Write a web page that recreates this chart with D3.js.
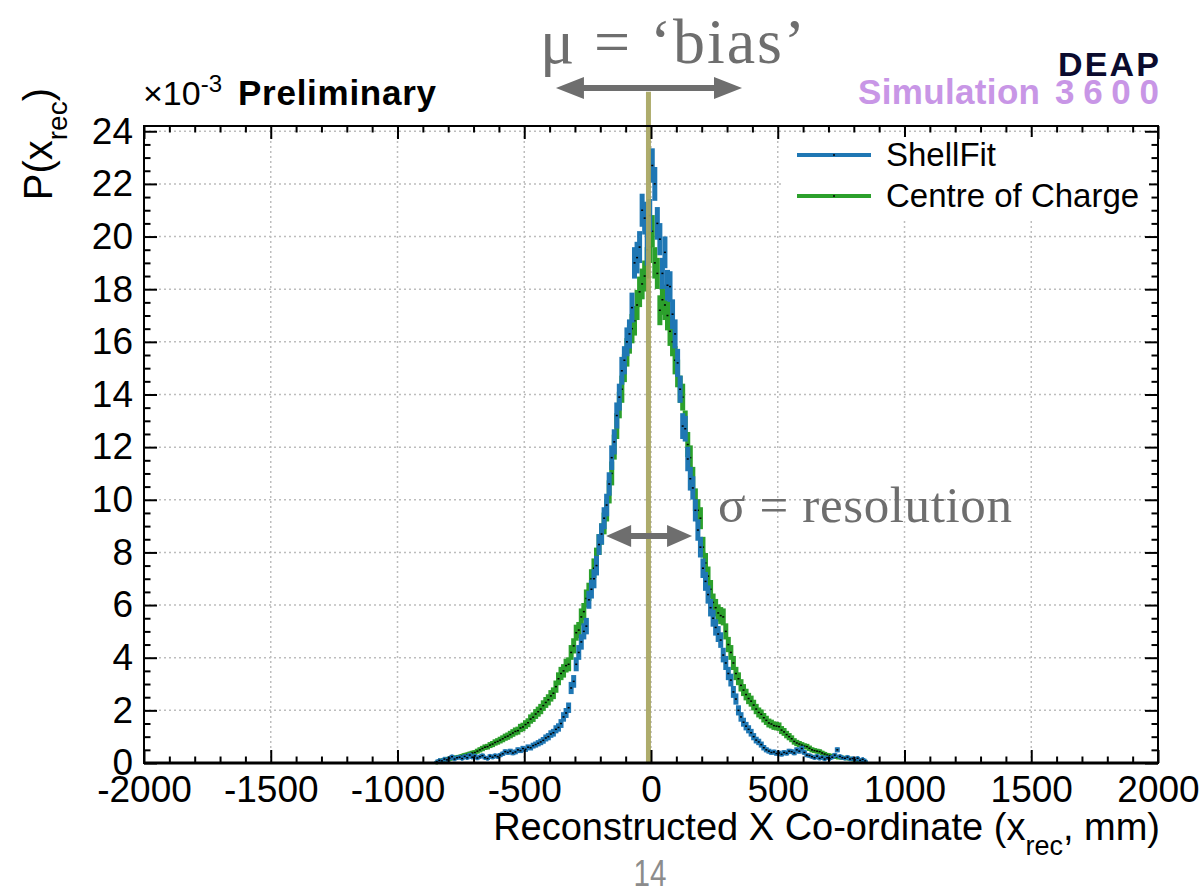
<!DOCTYPE html>
<html>
<head>
<meta charset="utf-8">
<script src="https://cdn.jsdelivr.net/npm/d3@7"></script>
<style>
  body { margin: 0; background: #fff; }
  svg { display: block; }
</style>
</head>
<body>
<div id="chart"></div>
<script>
// histogram bins, 10 mm wide, from -850 to 850 mm
const binCenters = d3.range(-845, 850, 10)

// P(x_rec) x 1e-3, ShellFit
const shellFit = [
  0.05, 0.10, 0.08, 0.15, 0.12, 0.18, 0.24, 0.15, 0.20, 0.22,
  0.17, 0.25, 0.20, 0.30, 0.22, 0.27, 0.19, 0.24, 0.28, 0.20,
  0.17, 0.26, 0.22, 0.28, 0.24, 0.30, 0.35, 0.43, 0.40, 0.45,
  0.38, 0.42, 0.50, 0.47, 0.55, 0.52, 0.60, 0.58, 0.66, 0.70,
  0.75, 0.80, 0.86, 0.95, 1.00, 1.10, 1.15, 1.28, 1.35, 1.50,
  1.75, 1.90, 2.10, 2.85, 3.10, 3.75, 4.20, 4.60, 5.00, 5.20,
  6.20, 6.60, 7.00, 7.50, 8.30, 8.70, 9.30, 9.80, 10.60, 11.60,
  12.20, 13.20, 13.90, 14.90, 15.30, 16.00, 16.30, 17.30, 19.00, 19.20,
  19.60, 21.00, 20.70, 19.50, 20.80, 22.70, 22.00, 20.50, 19.90, 18.60,
  19.40, 18.15, 18.10, 17.05, 16.30, 15.20, 14.20, 12.80, 12.70, 11.55,
  10.80, 10.45, 9.60, 8.85, 8.20, 7.40, 6.90, 6.40, 5.90, 5.50,
  5.15, 4.90, 4.67, 4.10, 3.80, 3.40, 3.15, 2.70, 2.43, 2.00,
  1.75, 1.55, 1.40, 1.28, 1.15, 1.00, 0.87, 0.80, 0.70, 0.58,
  0.50, 0.45, 0.40, 0.42, 0.36, 0.38, 0.33, 0.40, 0.37, 0.45,
  0.43, 0.38, 0.50, 0.45, 0.55, 0.40, 0.30, 0.28, 0.24, 0.20,
  0.26, 0.18, 0.22, 0.15, 0.20, 0.17, 0.22, 0.30, 0.50, 0.25,
  0.20, 0.18, 0.22, 0.15, 0.17, 0.12, 0.18, 0.10, 0.14, 0.08
]

// P(x_rec) x 1e-3, Centre of Charge
const centreOfCharge = [
  0.03, 0.08, 0.10, 0.12, 0.15, 0.14, 0.18, 0.20, 0.22, 0.24,
  0.27, 0.30, 0.32, 0.35, 0.38, 0.40, 0.45, 0.50, 0.55, 0.60,
  0.62, 0.68, 0.72, 0.78, 0.82, 0.87, 0.92, 0.98, 1.02, 1.08,
  1.14, 1.20, 1.23, 1.33, 1.37, 1.46, 1.53, 1.67, 1.74, 1.86,
  1.95, 2.05, 2.18, 2.30, 2.40, 2.55, 2.65, 2.90, 3.20, 3.40,
  3.50, 3.70, 3.75, 4.20, 4.45, 4.95, 5.05, 5.55, 5.75, 6.25,
  6.50, 7.00, 7.40, 7.80, 8.30, 8.70, 9.10, 9.60, 10.30, 11.00,
  12.00, 12.80, 13.60, 14.20, 15.00, 15.60, 16.10, 16.50, 16.80, 17.40,
  17.90, 18.20, 18.50, 19.00, 19.60, 20.20, 19.00, 18.60, 17.20, 17.60,
  17.40, 17.00, 16.40, 16.00, 15.30, 14.80, 14.20, 13.90, 12.90, 12.10,
  11.60, 10.80, 10.00, 9.60, 9.30, 8.20, 7.60, 7.10, 6.60, 6.10,
  5.90, 5.70, 5.60, 5.55, 5.00, 4.50, 4.20, 3.80, 3.40, 3.20,
  2.95, 2.77, 2.60, 2.45, 2.35, 2.20, 2.05, 1.92, 1.85, 1.72,
  1.62, 1.52, 1.48, 1.42, 1.40, 1.38, 1.25, 1.18, 1.08, 1.00,
  0.92, 0.82, 0.76, 0.72, 0.68, 0.64, 0.62, 0.56, 0.50, 0.47,
  0.45, 0.43, 0.38, 0.34, 0.30, 0.28, 0.26, 0.24, 0.22, 0.21,
  0.20, 0.19, 0.18, 0.16, 0.14, 0.13, 0.11, 0.10, 0.08, 0.05
]

const xTicks = [-2000, -1500, -1000, -500, 0, 500, 1000, 1500, 2000]
const yTicks = [0, 2, 4, 6, 8, 10, 12, 14, 16, 18, 20, 22, 24]
const seriesNames = ["ShellFit", "Centre of Charge"]
const seriesColors = ["#1f77b4", "#2ca02c"]
const biasX = -10        // mean marker (mm)
const errScale = 0.137   // poisson error, scaled to the normalisation

const width = 1204, height = 895
const margin = {top: 126, right: 46, bottom: 132, left: 144}
const sans = "'Liberation Sans', Arial, sans-serif"
const serif = "'Liberation Serif', 'DejaVu Serif', serif"

const svg = d3.select("#chart").append("svg")
  .attr("width", width).attr("height", height)
  .style("font-family", sans)

const x = d3.scaleLinear().domain([-2000, 2000]).range([margin.left, width - margin.right])
const y = d3.scaleLinear().domain([0, 24.2]).range([height - margin.bottom, margin.top])

const x0 = x.range()[0], x1 = x.range()[1]
const yb = y.range()[0], yt = y.range()[1]

// grid
const grid = svg.append("g").attr("stroke", "#bdbdbd").attr("stroke-width", 1.5)
  .attr("stroke-dasharray", "2,3")
grid.selectAll("line.gx").data(xTicks.slice(1, -1)).join("line").attr("class", "gx")
  .attr("x1", d => x(d)).attr("x2", d => x(d)).attr("y1", yb).attr("y2", yt)
grid.selectAll("line.gy").data(yTicks.slice(1)).join("line").attr("class", "gy")
  .attr("x1", x0).attr("x2", x1).attr("y1", d => y(d)).attr("y2", d => y(d))

// histograms
function drawHist(values, color) {
  const data = values.map((v, i) => ({c: binCenters[i], v: v, e: errScale * Math.sqrt(v)}))
  const g = svg.append("g")
  g.selectAll("line.err").data(data).join("line").attr("class", "err")
    .attr("x1", d => x(d.c)).attr("x2", d => x(d.c))
    .attr("y1", d => y(d.v - d.e)).attr("y2", d => y(d.v + d.e))
    .attr("stroke", color).attr("stroke-width", 5)
  g.selectAll("line.bin").data(data).join("line").attr("class", "bin")
    .attr("x1", d => x(d.c - 5)).attr("x2", d => x(d.c + 5))
    .attr("y1", d => y(d.v)).attr("y2", d => y(d.v))
    .attr("stroke", color).attr("stroke-width", 4.5)
  g.selectAll("rect.pt").data(data).join("rect").attr("class", "pt")
    .attr("x", d => x(d.c) - 1).attr("y", d => y(d.v) - 0.75)
    .attr("width", 2).attr("height", 1.5).attr("fill", "#000")
}
drawHist(centreOfCharge, seriesColors[1])
drawHist(shellFit, seriesColors[0])

// bias line
svg.append("line")
  .attr("x1", x(biasX)).attr("x2", x(biasX))
  .attr("y1", y(25.5)).attr("y2", yb)
  .attr("stroke", "#a8a660").attr("stroke-width", 5).attr("opacity", 0.92)

// axes, ROOT style ticks pointing inward on all four sides
const xMinor = d3.range(-2000, 2001, 100).filter(d => d % 500 !== 0)
const yMinor = d3.range(0, 24.01, 0.5).filter(d => d % 2 !== 0)

function styleAxis(g) {
  g.select(".domain").remove()
  g.selectAll(".tick line").attr("stroke", "#000").attr("stroke-width", 2)
  g.selectAll(".tick text").attr("font-size", 37).attr("fill", "#000").attr("font-family", sans)
}
const fmt = d => String(d)
svg.append("g").attr("transform", `translate(0,${yb})`)
  .call(d3.axisBottom(x).tickValues(xTicks).tickSize(-13).tickPadding(13).tickFormat(fmt))
  .call(styleAxis)
svg.append("g").attr("transform", `translate(0,${yb})`)
  .call(d3.axisBottom(x).tickValues(xMinor).tickSize(-6.5).tickFormat(""))
  .call(styleAxis)
svg.append("g").attr("transform", `translate(0,${yt})`)
  .call(d3.axisTop(x).tickValues(xTicks).tickSize(-13).tickFormat(""))
  .call(styleAxis)
svg.append("g").attr("transform", `translate(0,${yt})`)
  .call(d3.axisTop(x).tickValues(xMinor).tickSize(-6.5).tickFormat(""))
  .call(styleAxis)
svg.append("g").attr("transform", `translate(${x0},0)`)
  .call(d3.axisLeft(y).tickValues(yTicks).tickSize(-13).tickPadding(11).tickFormat(fmt))
  .call(styleAxis)
svg.append("g").attr("transform", `translate(${x0},0)`)
  .call(d3.axisLeft(y).tickValues(yMinor).tickSize(-6.5).tickFormat(""))
  .call(styleAxis)
svg.append("g").attr("transform", `translate(${x1},0)`)
  .call(d3.axisRight(y).tickValues(yTicks).tickSize(-13).tickFormat(""))
  .call(styleAxis)
svg.append("g").attr("transform", `translate(${x1},0)`)
  .call(d3.axisRight(y).tickValues(yMinor).tickSize(-6.5).tickFormat(""))
  .call(styleAxis)

svg.append("rect").attr("x", x0).attr("y", yt).attr("width", x1 - x0).attr("height", yb - yt)
  .attr("fill", "none").attr("stroke", "#000").attr("stroke-width", 2)
svg.append("line").attr("x1", x0).attr("x2", x1).attr("y1", yb).attr("y2", yb)
  .attr("stroke", "#000").attr("stroke-width", 3)

// legend
const leg = svg.append("g")
leg.append("rect").attr("x", 781).attr("y", 137).attr("width", 368).attr("height", 84).attr("fill", "#fff")
seriesNames.forEach((name, i) => {
  const ly = 155 + i * 41
  leg.append("line").attr("x1", 797).attr("x2", 871).attr("y1", ly).attr("y2", ly)
    .attr("stroke", seriesColors[i]).attr("stroke-width", 4)
  leg.append("rect").attr("x", 833).attr("y", ly - 0.75).attr("width", 2).attr("height", 1.5).attr("fill", "#000")
  leg.append("text").attr("x", 886).attr("y", ly + 11).attr("font-size", 33).text(name)
})

// axis titles
const xt = svg.append("text").attr("x", x1 + 2).attr("y", 840).attr("text-anchor", "end").attr("font-size", 38)
xt.append("tspan").text("Reconstructed X Co-ordinate (x")
xt.append("tspan").attr("font-size", 27).attr("dy", 15).text("rec")
xt.append("tspan").attr("dy", -15).text(", mm)")

const ytl = svg.append("text").attr("transform", "translate(52,88) rotate(-90)")
  .attr("text-anchor", "end").attr("font-size", 40)
ytl.append("tspan").text("P(x")
ytl.append("tspan").attr("font-size", 28).attr("dy", 15).text("rec")
ytl.append("tspan").attr("dy", -15).text(")")

// exponent and labels
const ex = svg.append("text").attr("x", 143).attr("y", 105).attr("font-size", 34)
ex.append("tspan").text("\u00d710")
ex.append("tspan").attr("font-size", 24).attr("dy", -13).text("-3")
svg.append("text").attr("x", 238).attr("y", 105).attr("font-size", 35).attr("font-weight", "bold")
  .attr("textLength", 198).text("Preliminary")

svg.append("text").attr("x", 1058).attr("y", 76).attr("font-size", 34)
  .attr("font-weight", "bold").attr("fill", "#0b0b2e").attr("textLength", 101).text("DEAP")
svg.append("text").attr("x", 858).attr("y", 104).attr("font-size", 35)
  .attr("font-weight", "bold").attr("fill", "#c896e6").attr("textLength", 182).text("Simulation")
svg.append("text").attr("x", 1055).attr("y", 104).attr("font-size", 35)
  .attr("font-weight", "bold").attr("fill", "#c896e6").attr("textLength", 104).text("3600")

// annotations
function dblArrow(xa, xb, yy, hl, hh, s, color) {
  const p = [[xa, yy], [xa + hl, yy - hh / 2], [xa + hl, yy - s / 2], [xb - hl, yy - s / 2],
    [xb - hl, yy - hh / 2], [xb, yy], [xb - hl, yy + hh / 2], [xb - hl, yy + s / 2],
    [xa + hl, yy + s / 2], [xa + hl, yy + hh / 2]]
  svg.append("path").attr("d", d3.line()(p) + "Z").attr("fill", color)
}
const annoColor = "#6e6e6e"
dblArrow(x(-375), x(359), 88, 28, 22, 6, annoColor)
dblArrow(x(-177), x(162), y(8.62), 25, 22, 6, annoColor)

svg.append("text").attr("x", 540).attr("y", 63).attr("font-size", 64)
  .attr("font-family", serif).attr("fill", annoColor)
  .attr("textLength", 265).text("\u03bc = \u2018bias\u2019")
svg.append("text").attr("x", 718).attr("y", 522).attr("font-size", 51)
  .attr("font-family", serif).attr("fill", annoColor)
  .attr("textLength", 294).text("\u03c3 = resolution")

svg.append("text").attr("transform", "translate(650,886) scale(0.8,1)").attr("text-anchor", "middle")
  .attr("font-size", 37).attr("fill", "#8c8c8c").text("14")
</script>
</body>
</html>
